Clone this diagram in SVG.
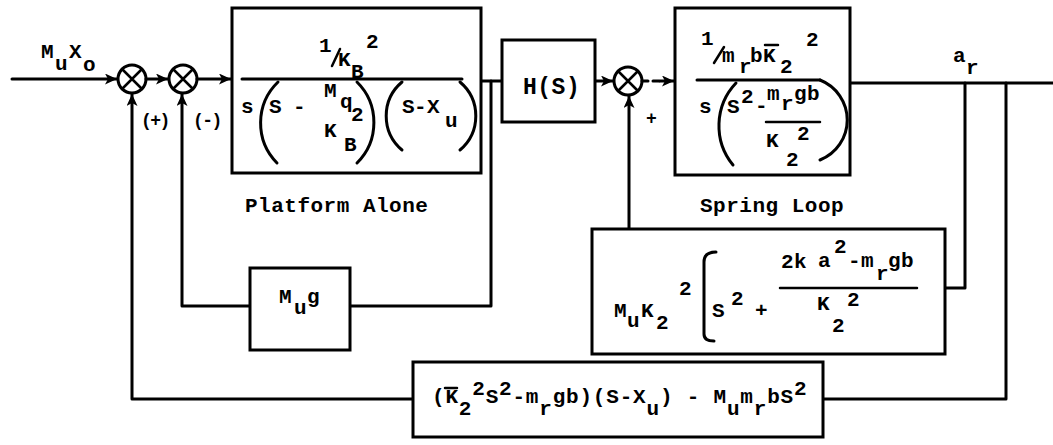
<svg xmlns="http://www.w3.org/2000/svg" width="1053" height="445" viewBox="0 0 1053 445">
<style>
.ln{stroke:#000;stroke-width:3;fill:none;stroke-linecap:round;stroke-linejoin:round}
.th{stroke:#000;stroke-width:2.5;fill:none;stroke-linecap:round}
.bx{stroke:#000;stroke-width:3;fill:#fff}
text{font-family:"Liberation Mono","Courier New",monospace;font-weight:bold;font-size:21px;fill:#000;letter-spacing:0.5px}
.sm{font-size:18px;letter-spacing:-1.5px}
.lg{font-size:23px}
</style>
<defs>
<marker id="arr" markerUnits="userSpaceOnUse" markerWidth="13" markerHeight="11" refX="12" refY="5.5" orient="auto">
<path d="M0,0 L12,5.5 L0,11 L3,5.5 z" fill="#000"/>
</marker>
</defs>
<rect width="1053" height="445" fill="#fff"/>

<g id="connectors">
<path class="ln" d="M12,79 L117,79" marker-end="url(#arr)"/>
<path class="ln" d="M146,79 L168,79" marker-end="url(#arr)"/>
<path class="ln" d="M197,79 L231,79" marker-end="url(#arr)"/>
<path class="ln" d="M481,81 L502,81"/>
<path class="ln" d="M491,81 L491,306 L350,306"/>
<path class="ln" d="M250,306 L182,306 L182,94" marker-end="url(#arr)"/>
<path class="ln" d="M413,399 L132,399 L132,94" marker-end="url(#arr)"/>
<path class="ln" d="M595,81 L613,81" marker-end="url(#arr)"/>
<path class="ln" d="M642,81 L660,81" stroke-dasharray="6 5"/>
<path class="ln" d="M660,81 L674,81" marker-end="url(#arr)"/>
<path class="ln" d="M629,229 L629,96" marker-end="url(#arr)"/>
<path class="ln" d="M850,83 L1053,83"/>
<path class="ln" d="M965,83 L965,288 L945,288"/>
<path class="ln" d="M1006,83 L1006,399 L823,399"/>
</g>

<g id="input-label">
<text x="41" y="58">M</text><text x="55" y="70">u</text>
<text x="69" y="58">X</text><text x="83" y="71">o</text>
</g>

<g id="sum1">
<circle class="ln" cx="132" cy="79" r="14"/>
<path class="th" d="M122,69 L142,89 M142,69 L122,89"/>
<text class="sm" x="141" y="126">(+)</text>
</g>

<g id="sum2">
<circle class="ln" cx="183" cy="79" r="14"/>
<path class="th" d="M173,69 L193,89 M193,69 L173,89"/>
<text class="sm" x="193" y="126">(-)</text>
</g>

<g id="platform">
<rect class="bx" x="232" y="8" width="249" height="165"/>
<text x="319" y="52">1</text>
<path class="th" d="M332,66 L340,49"/>
<text x="338" y="66">K</text><text x="351" y="78">B</text><text x="366" y="48">2</text>
<path class="ln" d="M242,79 L462,79"/>
<text x="241" y="113">s</text>
<text x="269" y="113">S</text>
<text x="293" y="113">-</text>
<text x="324" y="97">M</text><text x="340" y="108">q</text><text x="351" y="121">2</text>
<text x="324" y="137">K</text><text x="344" y="151">B</text>
<path class="ln" d="M278,82 A57,57 0 0 0 277,163"/>
<path class="ln" d="M357,82 A57,57 0 0 1 357,163"/>
<text x="402" y="113">S</text><text x="414" y="113">-</text><text x="427" y="113">X</text><text x="445" y="127">u</text>
<path class="ln" d="M402,82 A44.5,44.5 0 0 0 402,150"/>
<path class="ln" d="M460,82 A44.5,44.5 0 0 1 460,150"/>
<text x="245" y="212">Platform Alone</text>
</g>

<g id="hs">
<rect class="bx" x="502" y="40" width="93" height="82"/>
<text class="lg" x="523" y="94">H(S)</text>
</g>

<g id="sum3">
<circle class="ln" cx="628" cy="81" r="14"/>
<path class="th" d="M618,71 L638,91 M638,71 L618,91"/>
<text class="sm" x="646" y="124">+</text>
</g>

<g id="spring">
<rect class="bx" x="675" y="8" width="175" height="167"/>
<text x="701" y="45">1</text>
<path class="th" d="M714,63 L724,47"/>
<text x="722" y="62">m</text><text x="739" y="73">r</text><text x="750" y="62">b</text>
<text x="763" y="62">K</text><path class="th" d="M765,45 L778,45"/>
<text x="780" y="73">2</text><text x="806" y="46">2</text>
<path class="ln" d="M697,80 L820,80"/>
<text x="699" y="113">s</text>
<path class="ln" d="M736,83 A62,62 0 0 0 733,165"/>
<text x="727" y="113">S</text><text x="741" y="103">2</text><text x="755" y="112">-</text>
<text x="767" y="100">m</text><text x="781" y="110">r</text><text x="794" y="100">gb</text>
<path class="th" d="M766,122 L820,122"/>
<text x="766" y="147">K</text><text x="786" y="166">2</text><text x="797" y="140">2</text>
<path class="ln" d="M820,80 A43,43 0 0 1 820,160"/>
<text x="700" y="212">Spring Loop</text>
</g>

<g id="spring-feedback">
<rect class="bx" x="592" y="229" width="353" height="125"/>
<text x="614" y="317">M</text><text x="627" y="327">u</text>
<text x="641" y="317">K</text><text x="656" y="329">2</text><text x="679" y="295">2</text>
<path class="ln" d="M716,252 Q704,252 704,262 L704,334 Q704,341 714,341"/>
<text x="712" y="317">S</text><text x="731" y="305">2</text>
<text x="755" y="317">+</text>
<text x="781" y="268">2k</text><text x="818" y="267">a</text><text x="834" y="253">2</text>
<text x="848" y="267">-m</text><text x="876" y="280">r</text><text x="888" y="267">gb</text>
<path class="th" d="M780,288 L917,288"/>
<text x="817" y="310">K</text><text x="832" y="332">2</text><text x="847" y="306">2</text>
</g>

<g id="mug">
<rect class="bx" x="250" y="268" width="100" height="82"/>
<text x="279" y="303">M</text><text x="294" y="314">u</text><text x="307" y="303">g</text>
</g>

<g id="bottom-feedback">
<rect class="bx" x="413" y="362" width="410" height="75"/>
<text x="432" y="403" style="letter-spacing:0.8px">(K<tspan dy="12">2</tspan><tspan dy="-20">2</tspan><tspan dy="8">S</tspan><tspan dy="-8">2</tspan><tspan dy="8">-m</tspan><tspan dy="12">r</tspan><tspan dy="-12">gb)(S-X</tspan><tspan dy="12">u</tspan><tspan dy="-12">) - M</tspan><tspan dy="12">u</tspan><tspan dy="-12">m</tspan><tspan dy="12">r</tspan><tspan dy="-12">bS</tspan><tspan dy="-8">2</tspan></text>
<path class="th" d="M445,388 L457,388"/>
</g>

<g id="output-label">
<text x="953" y="62">a</text><text x="966" y="74">r</text>
</g>
</svg>
